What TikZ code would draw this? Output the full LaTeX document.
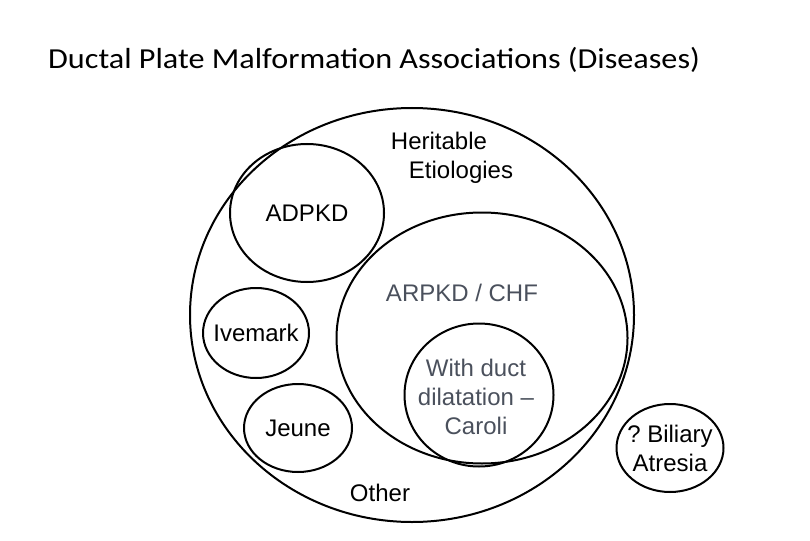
\documentclass[tikz,border=0pt]{standalone}
\usepackage{fontspec}
\setmainfont{Liberation Sans}
\newfontfamily\titlefont[FakeStretch=1.11]{Carlito}
\usetikzlibrary{shapes.geometric,positioning}
\frenchspacing

\definecolor{slate}{RGB}{74,80,92}

\tikzset{
  blob/.style={ellipse, draw, line width=2pt, inner sep=0pt},
  lbl/.style={font=\fontsize{24}{29}\selectfont, align=center, inner sep=0pt},
  grey lbl/.style={lbl, text=slate}
}

\begin{document}
\begin{tikzpicture}[x=1pt, y=-1pt]
    \useasboundingbox (0,0) rectangle (810,540);
    \node[anchor=base west, inner sep=0pt, font=\titlefont\fontsize{29}{34}\selectfont] (title) at (48,69) {Ductal Plate Malformation Associations (Diseases)};

    % outer set: everything that is heritable
    \node[blob, minimum width=444pt, minimum height=414pt] (other) at (412,315) {};
    \node[blob, minimum width=154pt, minimum height=138pt] (adpkd) at (307,213) {};
    \node[blob, minimum width=291pt, minimum height=251pt] (arpkd) at (482,338) {};
    \node[blob, minimum width=149pt, minimum height=143pt] (caroli) at (479,395) {};
    \node[blob, minimum width=106pt, minimum height=90pt] (ivemark) at (256,333) {};
    \node[blob, minimum width=108pt, minimum height=88pt] (jeune) at (298,428) {};
    \node[blob, minimum width=107pt, minimum height=88pt] (biliary) at (670,448) {};

    % labels
    \node[lbl, align=left] (herit) at (452,158) {Heritable\\\hspace{0.75em}Etiologies};
    \node[lbl] (adpkdl) at (adpkd) {ADPKD};
    \node[grey lbl] (arpkdl) at (462,293) {ARPKD / CHF};
    \node[lbl] (ivemarkl) at (ivemark) {Ivemark};
    \node[grey lbl] (carolil) at (476,397) {With duct\\dilatation --\\Caroli};
    \node[lbl] (jeunel) at (jeune) {Jeune};
    \node[lbl] (otherl) at (380,493) {Other};
    \node[lbl] (biliaryl) at (biliary) {? Biliary\\Atresia};
\end{tikzpicture}
\end{document}
